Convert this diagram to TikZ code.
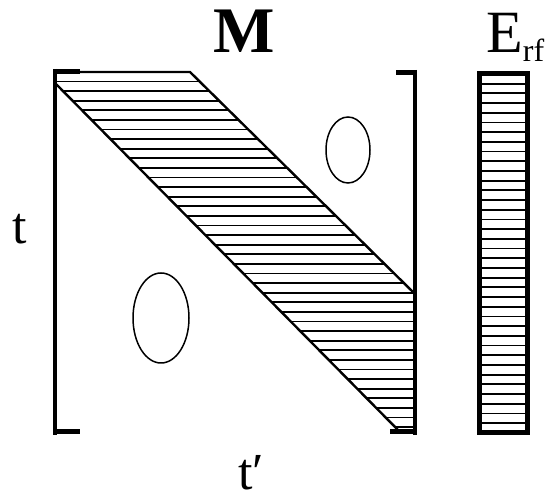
\documentclass[tikz,border=0pt]{standalone}
\usepackage{fontspec}
\setmainfont{Liberation Serif}

\begin{document}
\begin{tikzpicture}[x=1pt, y=-1pt]

    \useasboundingbox (0, 0) rectangle (550, 502);

    % bracket corners
    \coordinate (LT) at ( 55,  72);
    \coordinate (LB) at ( 55, 432);
    \coordinate (RT) at (415,  72);
    \coordinate (RB) at (415, 432);

    % band of the matrix
    \coordinate (BA) at ( 55,  72);
    \coordinate (BB) at (190,  72);
    \coordinate (BC) at (415, 294);
    \coordinate (BD) at (415, 432);
    \coordinate (BE) at (400, 432);
    \coordinate (BF) at ( 56,  84);

    % E_rf bar
    \coordinate (EA) at (479,  74);
    \coordinate (EC) at (527, 433);

    % hatching of the band
    \begin{scope}
        \clip (BA) -- (BB) -- (BC) -- (BD) -- (BE) -- (BF) -- cycle;
        \foreach \i in {1,...,37}
            \draw [line width=1.8pt] (50, 72+9.6*\i) -- (420, 72+9.6*\i);
    \end{scope}
    \draw [line width=2.4pt] (BA) -- (BB) -- (BC);
    \draw [line width=2.4pt] (BF) -- (BE);

    % brackets
    \draw [line width=4pt] (55, 69) -- (55, 435);
    \draw [line width=5pt] (53, 72) -- (80, 72);
    \draw [line width=5pt] (53, 432) -- (80, 432);
    \draw [line width=4pt] (415, 70) -- (415, 435);
    \draw [line width=5pt] (396, 73) -- (417, 73);
    \draw [line width=5pt] (390, 432) -- (417, 432);

    % zero blocks
    \draw [line width=1.5pt] (348, 150) ellipse [x radius=22, y radius=33];
    \draw [line width=1.5pt] (161, 318) ellipse [x radius=28, y radius=45];

    % E_rf bar
    \draw [line width=5pt] (EA) rectangle (EC);
    \foreach \i in {1,...,36}
        \draw [line width=1.8pt] (481, 74+9.7*\i) -- (525, 74+9.7*\i);

    \node [anchor=base, font=\fontsize{65}{65}\selectfont\bfseries] (M) at (244, 53) {M};
    \node [anchor=base west, inner sep=0pt, font=\fontsize{60}{60}\selectfont] (E) at (486, 53) {E\raisebox{-9pt}{\fontsize{32}{32}\selectfont rf}};
    \node [anchor=base, inner sep=0pt, font=\fontsize{52}{52}\selectfont] (t) at (20, 244) {t};
    \node [anchor=base, inner sep=0pt, font=\fontsize{52}{52}\selectfont] (tp) at (251, 490) {t′};

\end{tikzpicture}
\end{document}
